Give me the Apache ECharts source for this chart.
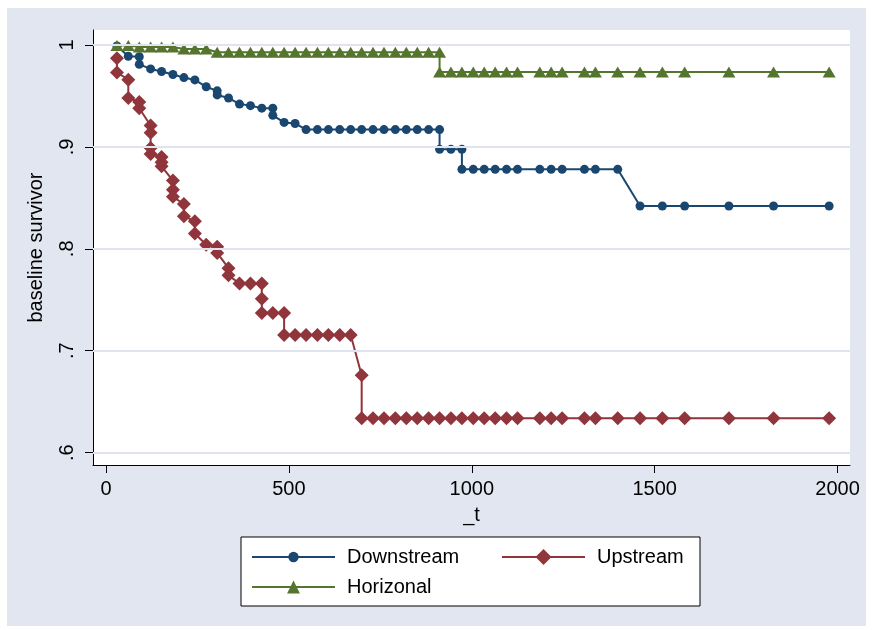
<!DOCTYPE html>
<html>
<head>
<meta charset="utf-8">
<script src="https://cdn.jsdelivr.net/npm/echarts@6/dist/echarts.min.js"></script>
<style>
html,body{margin:0;padding:0;background:#fff;}
#c{width:872px;height:630px;}
</style>
</head>
<body>
<div id="c"></div>
<script>
// ---- data (t in days, baseline survivor) ----
const xTicks = [0, 500, 1000, 1500, 2000];
const yTicks = [0.6, 0.7, 0.8, 0.9, 1];
const seriesNames = ['Downstream', 'Upstream', 'Horizonal'];

const downT = [30, 61, 91, 91, 122, 152, 183, 213, 243, 274, 304, 304, 335, 365, 395, 426, 456, 456, 487, 517,
  547, 578, 608, 639, 669, 699, 730, 760, 791, 821, 851, 882, 912, 912, 943, 973, 973, 1004, 1034, 1064, 1095, 1125,
  1186, 1217, 1247, 1308, 1338, 1399, 1460, 1521, 1582, 1703, 1825, 1977];
const downS = [0.999, 0.989, 0.9885, 0.981, 0.9765, 0.974, 0.971, 0.968, 0.9657, 0.959, 0.955, 0.951, 0.948, 0.942, 0.9405, 0.938, 0.938, 0.931, 0.924, 0.923,
  0.917, 0.917, 0.917, 0.917, 0.917, 0.917, 0.917, 0.917, 0.917, 0.917, 0.917, 0.917, 0.917, 0.8976, 0.8976, 0.8976, 0.878, 0.878, 0.878, 0.878, 0.878, 0.878,
  0.878, 0.878, 0.878, 0.878, 0.878, 0.878, 0.842, 0.842, 0.842, 0.842, 0.842, 0.842];

const upT = [30, 30, 61, 61, 91, 91, 122, 122, 122, 122, 152, 152, 152, 183, 183, 183, 213, 213, 243, 243, 274, 304, 304,
  335, 335, 365, 395, 426, 426, 426, 456, 487, 487, 517, 547, 578, 608, 639, 669, 699, 699,
  730, 760, 791, 821, 851, 882, 912, 943, 973, 1004, 1034, 1064, 1095, 1125,
  1186, 1217, 1247, 1308, 1338, 1399, 1460, 1521, 1582, 1703, 1825, 1977];
const upS = [0.987, 0.973, 0.966, 0.948, 0.944, 0.938, 0.921, 0.914, 0.899, 0.893, 0.890, 0.885, 0.881, 0.867, 0.858, 0.851, 0.844, 0.832, 0.827, 0.815, 0.804, 0.802, 0.796,
  0.781, 0.774, 0.766, 0.766, 0.766, 0.751, 0.737, 0.737, 0.737, 0.7154, 0.7154, 0.7154, 0.7154, 0.7154, 0.7154, 0.7154, 0.676, 0.6337,
  0.6337, 0.6337, 0.6337, 0.6337, 0.6337, 0.6337, 0.6337, 0.6337, 0.6337, 0.6337, 0.6337, 0.6337, 0.6337, 0.6337,
  0.6337, 0.6337, 0.6337, 0.6337, 0.6337, 0.6337, 0.6337, 0.6337, 0.6337, 0.6337, 0.6337, 0.6337];

const horT = [30, 61, 91, 122, 152, 183, 213, 243, 274, 304, 335, 365, 395, 426, 456, 487, 517, 547, 578, 608,
  639, 669, 699, 730, 760, 791, 821, 851, 882, 912, 912, 943, 973, 1004, 1034, 1064, 1095, 1125,
  1186, 1217, 1247, 1308, 1338, 1399, 1460, 1521, 1582, 1703, 1825, 1977];
const horS = [0.9995, 0.9995, 0.998, 0.998, 0.998, 0.998, 0.996, 0.996, 0.996, 0.9928, 0.9928, 0.9928, 0.9928, 0.9928, 0.9928, 0.9928, 0.9928, 0.9928, 0.9928, 0.9928,
  0.9928, 0.9928, 0.9928, 0.9928, 0.9928, 0.9928, 0.9928, 0.9928, 0.9928, 0.9928, 0.9735, 0.9735, 0.9735, 0.9735, 0.9735, 0.9735, 0.9735, 0.9735,
  0.9735, 0.9735, 0.9735, 0.9735, 0.9735, 0.9735, 0.9735, 0.9735, 0.9735, 0.9735, 0.9735, 0.9735];

// ---- chart ----
const zip = (a, b) => a.map((v, i) => [v, b[i]]);
const FONT = 'Liberation Sans, Arial, sans-serif';
const colors = ['#1a476f', '#90353b', '#55752f'];
const chart = echarts.init(document.getElementById('c'), null, {renderer: 'canvas'});

const legendBase = {
  orient: 'horizontal', padding: 0, itemWidth: 83, itemHeight: 14, selectedMode: false,
  textStyle: {fontFamily: FONT, fontSize: 20, color: '#000', padding: [0, 0, 0, 7]}
};

chart.setOption({
  backgroundColor: '#fff',
  animation: false,
  textStyle: {fontFamily: FONT},
  graphic: [
    {type: 'rect', z: -100, shape: {x: 7, y: 8, width: 859, height: 618}, style: {fill: '#e2e6f0'}},
    {type: 'rect', z: -50, shape: {x: 241, y: 537, width: 459, height: 69}, style: {fill: '#fff', stroke: '#000', lineWidth: 1}}
  ],
  grid: {left: 93, right: 22, top: 30, bottom: 165, show: true, backgroundColor: '#fff', borderWidth: 0},
  xAxis: {
    type: 'value', min: -35.5, max: 2034,
    name: '_t', nameLocation: 'middle', nameGap: 40,
    nameTextStyle: {fontFamily: FONT, fontSize: 20, color: '#000'},
    axisLine: {show: true, onZero: false, lineStyle: {color: '#000', width: 1}},
    axisTick: {show: true, inside: false, length: 8, lineStyle: {color: '#000'}, customValues: xTicks},
    axisLabel: {fontFamily: FONT, fontSize: 20, color: '#000', margin: 14, customValues: xTicks,
      formatter: v => String(Math.round(v))},
    splitLine: {show: false}
  },
  yAxis: {
    type: 'value', min: 0.5879, max: 1.0147,
    name: 'baseline survivor', nameLocation: 'middle', nameGap: 47, nameRotate: 90,
    nameTextStyle: {fontFamily: FONT, fontSize: 20, color: '#000'},
    axisLine: {show: true, onZero: false, lineStyle: {color: '#000', width: 1}},
    axisTick: {show: true, inside: false, length: 8, lineStyle: {color: '#000'}, customValues: yTicks},
    axisLabel: {fontFamily: FONT, fontSize: 20, color: '#000', margin: 16, rotate: 90, customValues: yTicks,
      formatter: v => (Math.abs(v - 1) < 1e-9 ? '1' : String(Math.round(v * 10) / 10).replace(/^0\./, '.'))},
    splitLine: {show: false}
  },
  legend: [
    Object.assign({}, legendBase, {data: [seriesNames[0]], left: 251, top: 547, itemHeight: 13}),
    Object.assign({}, legendBase, {data: [seriesNames[1]], left: 501, top: 547, itemHeight: 20}),
    Object.assign({}, legendBase, {data: [seriesNames[2]], left: 251, top: 577, itemHeight: 16})
  ],
  series: [
    {
      type: 'line', name: '_grid', data: [], silent: true, z: 1,
      markLine: {
        silent: true, symbol: 'none', label: {show: false},
        lineStyle: {color: '#dfe4ee', width: 2, type: 'solid'},
        data: yTicks.map(v => ({yAxis: v}))
      }
    },
    {
      type: 'line', name: seriesNames[0], data: zip(downT, downS),
      color: colors[0], symbol: 'circle', symbolSize: 9, showAllSymbol: true,
      lineStyle: {width: 2, color: colors[0]}, itemStyle: {color: colors[0]}
    },
    {
      type: 'line', name: seriesNames[1], data: zip(upT, upS),
      color: colors[1], symbol: 'diamond', symbolSize: [14, 14], showAllSymbol: true,
      lineStyle: {width: 2, color: colors[1]}, itemStyle: {color: colors[1]}
    },
    {
      type: 'line', name: seriesNames[2], data: zip(horT, horS),
      color: colors[2], symbol: 'triangle', symbolSize: [13, 11], showAllSymbol: true,
      lineStyle: {width: 2, color: colors[2]}, itemStyle: {color: colors[2]}
    }
  ]
});
</script>
</body>
</html>
